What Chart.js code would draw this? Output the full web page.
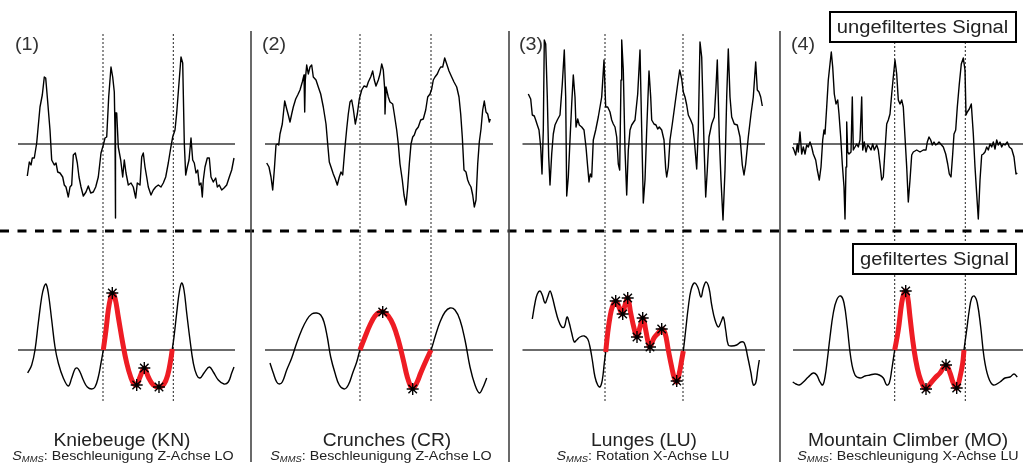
<!DOCTYPE html>
<html>
<head>
<meta charset="utf-8">
<script src="https://cdn.jsdelivr.net/npm/chart.js@4.4.1/dist/chart.umd.min.js"></script>
<style>
html,body{margin:0;padding:0;background:#fff;}
#wrap{position:relative;width:1023px;height:466px;overflow:hidden;font-family:"Liberation Sans",Arial,Helvetica,sans-serif;color:#222;background:#fff;}
.plot{position:absolute;}
.plot canvas{display:block;}
.tag{position:absolute;font-size:18px;line-height:18px;color:#333;white-space:nowrap;transform-origin:left center;transform:scaleX(1.1);}
.title{position:absolute;font-size:18px;line-height:18px;color:#222;white-space:nowrap;transform:translateX(-50%) scaleX(1.07);}
.sub{position:absolute;font-size:13px;line-height:13px;color:#222;white-space:nowrap;transform:translateX(-50%) scaleX(1.1);}
.sub i{font-style:italic;}
.sub .mms{font-size:8.5px;font-style:italic;position:relative;top:1.5px;}
.box{position:absolute;border:2px solid #000;background:#fff;box-sizing:border-box;display:flex;align-items:center;justify-content:center;font-size:18px;color:#222;white-space:nowrap;}
.box span{display:inline-block;transform:scaleX(1.12);}
svg{position:absolute;left:0;top:0;}
</style>
</head>
<body>
<div id="wrap"></div>
<script>
// ---------------- data (time in samples, amplitude in arbitrary units; 0 = baseline) ----------------
const PANEL_TAGS = ['(1)', '(2)', '(3)', '(4)'];
const TITLES = ['Kniebeuge (KN)', 'Crunches (CR)', 'Lunges (LU)', 'Mountain Climber (MO)'];
const SUBTITLES = ['Beschleunigung Z-Achse LO', 'Beschleunigung Z-Achse LO', 'Rotation X-Achse LU', 'Beschleunigung X-Achse LU'];

// (1) Kniebeuge
const KN_RAW = [[27.3,-32],[29.3,-18],[31,-21],[32.3,-14],[34.3,-14],[36.7,1],[40,37],[42.3,49],[44.3,67],[45.7,66],[47.3,47],[50,14],[51.7,-16],[54.3,-21],[56,-19],[57.7,-28],[60,-29],[62.7,-33],[64.3,-41],[66,-43],[68.3,-53],[70,-43],[71.7,-41],[73.3,-11],[75.3,-9],[77.3,-19],[79,-33],[81,-43],[83.3,-52],[86,-48],[88.3,-42],[90.7,-49],[93.3,-48],[95.7,-43],[98.3,-33],[101,-9],[103.3,-1],[105,6],[106.7,7],[108.7,47],[111,77],[112.7,67],[114.3,52],[115,14],[115.3,-74],[115.7,31],[116.7,31],[118.3,-3],[120.7,-16],[122.7,-33],[124.3,-16],[126,-29],[128.3,-41],[131,-39],[133.3,-43],[135.7,-54],[137.3,-39],[140,-41],[141.7,-13],[143.3,-9],[145,-23],[146.7,-33],[148.3,-43],[151,-51],[153.3,-46],[155.7,-43],[158.3,-41],[161,-43],[163.3,-39],[165.7,-33],[168.3,-19],[170.7,-4],[172.7,7],[175,14],[176.7,31],[179,61],[181,87],[182.7,81],[184.3,1],[185.7,-31],[187.3,-23],[189,-16],[191,6],[192.7,-16],[194.3,-19],[196,-29],[197.7,-26],[199.3,-41],[201,-39],[202.3,-53],[203.3,-36],[205,-23],[207.3,-14],[209.3,-14],[211,-33],[213.3,-38],[215.7,-34],[217.3,-43],[219.3,-41],[221.7,-46],[224,-44],[226.7,-41],[229.3,-33],[231.7,-26],[234,-14]];
const KN_FILT = [[27.7,-23],[31.7,-15],[35,0],[38.3,27],[41.7,53],[44,63],[46,66],[48.3,57],[51.7,30],[55,3],[58.3,-13],[63.3,-28],[68.3,-36],[71.7,-28],[75,-19],[77.3,-18],[80,-22],[83.3,-30],[87.3,-37],[91.7,-39],[95,-37],[98.3,-27],[101,-13],[103.3,0],[106,20],[108.3,40],[110.7,53],[112.3,57],[115,52],[118.3,33],[122.7,7],[126.7,-13],[130.7,-27],[134,-34],[136.7,-35],[140,-27],[144.3,-18],[148.3,-27],[153.3,-35],[159,-37],[164,-34],[167.7,-25],[170.7,-10],[172.3,1],[174,13],[176.7,37],[179.3,58],[181.7,67],[184,60],[186.7,37],[190,10],[193.3,-13],[196.7,-25],[200,-28],[204,-23],[209.3,-17],[213.3,-22],[218.3,-30],[224,-34],[228.3,-32],[231.7,-23],[234,-17]];
const KN_PEAKS = [[112.3,57],[136.7,-35],[144.3,-18],[159,-37]];
const KN_REPS = [103, 173.3];

// (2) Crunches
const CR_RAW = [[16.7,-19],[19,-23],[21,-33],[22.7,-46],[24.3,-26],[26,-1],[27.3,0],[28.7,-1],[30,10],[32.3,20],[34.7,43],[36.7,35],[38.3,29],[40,22],[41.7,30],[43.3,37],[45.7,45],[47.7,49],[50,54],[52.3,62],[54,69],[54.7,32],[55.3,64],[56.7,79],[58.3,70],[60,77],[61.7,79],[63.3,67],[66,64],[68.3,57],[70.7,50],[73.3,37],[76,20],[77.7,0],[79.3,-18],[81,-23],[83.3,-30],[85.3,-35],[87.3,-41],[89.3,-33],[91,-28],[92.7,-31],[95,-3],[96.7,15],[98.3,30],[100,42],[101.7,44],[103.3,35],[105.3,20],[107.3,30],[109.3,45],[111.7,54],[114,58],[116.7,57],[118.3,62],[120.7,67],[122.7,73],[124.3,64],[126,58],[128.3,64],[130,70],[131.7,80],[133.3,74],[134.7,55],[135,30],[136,57],[138.3,47],[140,42],[142.7,40],[144.3,30],[146.7,14],[148.3,0],[150,-20],[152.3,-36],[154,-51],[156,-61],[157.7,-43],[159.3,-20],[161,0],[162.7,7],[164.3,9],[166,14],[168.3,17],[170.7,24],[173.3,25],[175.7,34],[177.7,47],[180,50],[181.7,55],[183.3,64],[185,67],[187.3,70],[189,74],[190.7,77],[192.7,77],[194.7,86],[196.7,80],[199,73],[201.7,67],[204,62],[206.7,57],[209,47],[210.7,30],[212.3,7],[214,-26],[216,-28],[217.7,-36],[219.3,-40],[221,-43],[222.7,-51],[224.3,-63],[226,-56],[227.7,-20],[229.3,2],[231,15],[232.7,34],[234.3,43],[236,32],[237.7,30],[239.3,22],[240.3,25]];
const CR_FILT = [[20,-13],[23.3,-23],[26.7,-32],[29.3,-34],[32.3,-32],[36.7,-20],[41.7,-8],[46.7,7],[51.7,20],[56.7,30],[61.7,36],[66.7,37],[70.7,35],[74,28],[77.3,13],[80.7,-7],[85,-23],[89.3,-35],[94.3,-39],[98.3,-35],[102.7,-23],[106.7,-12],[110,0],[115,13],[120,25],[125,34],[130,38],[133.3,38],[138.3,34],[143.3,25],[148.3,10],[153.3,-10],[157.3,-27],[161,-37],[163.3,-38],[166.7,-33],[170.7,-23],[175,-13],[181,0],[185,13],[190,28],[195,38],[200,42],[205,40],[210,30],[215,10],[220,-17],[225,-35],[229.3,-43],[232.7,-38],[236.7,-28]];
const CR_PEAKS = [[132.7,38],[162.7,-39]];
const CR_REPS = [110, 181];

// (3) Lunges
const LU_RAW = [[23.3,50],[25.7,45],[27.3,29],[29.3,28],[30.7,24],[32.3,19],[34,14],[35.7,-3],[37,-30],[38.3,14],[39.3,104],[40.7,100],[42.3,47],[43.7,-13],[45,-41],[46.7,-10],[48.3,10],[50,19],[52.3,24],[55,29],[57.3,60],[59.3,94],[60.7,47],[61.7,-52],[63.3,-33],[65,4],[66.7,40],[68.3,69],[70,47],[71,17],[72.7,25],[74.3,19],[76.7,17],[79,14],[81,-3],[82.7,-23],[84,-38],[85.3,-30],[86.7,-33],[88.3,4],[90.7,14],[93.3,27],[96.7,47],[99,84],[100.7,37],[102.7,37],[105,32],[106.7,24],[108.3,20],[110,17],[111.7,7],[113.3,-20],[114.7,-26],[116,64],[116.7,104],[118.3,74],[120,-6],[121.7,-51],[123.3,-6],[125,14],[126.7,19],[130,24],[132.7,50],[135,94],[136.7,14],[138.3,-59],[140,-36],[141.7,14],[144,73],[145.7,47],[146.7,24],[149,20],[151,19],[152.7,15],[154.3,17],[156.7,14],[159,4],[160.7,-25],[161.7,-33],[163.3,-23],[165,4],[167.3,20],[170,40],[172.7,60],[174.7,74],[176.7,65],[178.3,52],[180,47],[181.7,39],[183.3,29],[185.7,24],[187.7,19],[189.3,4],[191.7,-25],[193.3,14],[195,102],[196.7,87],[199,0],[200.7,-53],[202.3,-26],[204,7],[206.7,20],[209.3,27],[211,57],[212.3,84],[214.3,7],[216,-36],[218,-76],[220,-26],[221.7,47],[223.3,95],[225,47],[226.7,27],[229.3,20],[232.3,19],[235,7],[237.3,-21],[239,-31],[240.7,-20],[243.3,7],[246,30],[248.3,47],[250.7,82],[252.3,54],[254,52],[255.7,47],[257.3,38]];
const LU_FILT = [[27.3,31],[30,47],[32.3,56],[35,59],[37.3,55],[40,47],[42.7,53],[45,59],[47.3,53],[50,42],[53.3,30],[56.7,23],[59.3,23],[62,33],[64,28],[66.7,17],[69.3,8],[71.7,10],[75,13],[79.3,14],[82.7,11],[85,3],[87.3,-10],[90,-27],[92.7,-35],[95,-37],[97.3,-30],[99.3,-13],[100.7,-2],[102.7,17],[105,33],[107.3,43],[110.7,49],[114,43],[117.3,36],[120,45],[122.7,52],[125.7,37],[129,22],[132,13],[135,23],[138,32],[140.7,20],[143.3,7],[145,3],[149,12],[153.3,17],[156.7,21],[160,17],[163.3,0],[166.7,-17],[169.3,-28],[171.7,-32],[174.3,-23],[176.7,-10],[178.3,-1],[180.7,20],[183.3,43],[186,60],[189.3,67],[192.7,63],[196,53],[198.3,62],[201,68],[204,62],[206.7,45],[210,30],[213.3,23],[216,28],[218.3,33],[220.7,20],[223.3,5],[226.7,4],[231.7,5],[236,8],[239.3,7],[242.7,-7],[246,-23],[248.3,-35],[250.7,-33],[252.7,-20],[254.3,-10]];
const LU_PEAKS = [[110.7,49],[117.7,36],[122.7,52],[132,13],[137.7,32],[145,3],[156.7,21],[171.7,-31]];
const LU_REPS = [100, 178];

// (4) Mountain Climber
const MO_RAW = [[22.7,-3],[24,-6],[25.7,-11],[27.3,0],[28.3,-8],[30,12],[31.7,-10],[33.3,-3],[35,-10],[36.7,-1],[38.3,-3],[40,2],[41.7,-3],[43.3,-10],[45.7,-16],[47.3,-26],[49.3,-36],[51,-23],[52.7,4],[54,14],[55,10],[56.7,37],[58.3,64],[60,80],[61.3,92],[62.7,77],[64.3,50],[66,40],[67.7,44],[69,30],[70.7,7],[72.3,-20],[74,-43],[75,-75],[76,-23],[76.7,22],[77.7,-8],[79,-10],[81,-8],[82.3,47],[83.3,-6],[85,-3],[86.7,0],[88.3,-3],[90,4],[91.7,47],[92.7,-6],[94.3,2],[96,-8],[97.7,-1],[99.3,-3],[101,-6],[102.7,0],[104.3,-6],[106.7,-1],[108.3,-6],[110,-20],[111.7,-36],[113.3,-33],[115,-6],[116.7,20],[118.3,24],[120,30],[121.7,50],[123.3,67],[125,84],[126.7,70],[128.3,44],[130,40],[131.7,44],[133.3,37],[135,7],[136.7,-23],[138.3,-58],[140,-36],[141.7,-11],[143.3,-8],[146.7,-6],[150,-8],[153.3,-6],[156,-6],[157.3,2],[159,7],[160.7,4],[162.3,-1],[164,2],[165.7,-1],[167.3,0],[169,2],[170.7,0],[173.3,-3],[175.7,-10],[177.7,-20],[179.3,-30],[181,-33],[182.7,-10],[184,10],[185.7,14],[187.3,37],[189.3,60],[191.3,80],[193.3,86],[195,74],[196,29],[197.3,32],[199.3,35],[201.3,40],[203.3,10],[205,-23],[206.7,-50],[208.3,-75],[210,-36],[211.7,-11],[213.3,-10],[215,-8],[216.7,-3],[218.3,-6],[220,0],[221.7,-3],[223.3,2],[225,-5],[226.7,4],[228.3,-1],[230,2],[231.7,-3],[233.3,0],[235,-1],[237.3,2],[239.3,-3],[241.7,-5],[244,-13],[246,-30],[247.3,-29]];
const MO_FILT = [[22.7,-32],[26,-34],[29.3,-35],[33.3,-32],[38.3,-27],[43.3,-23],[46.7,-25],[50,-32],[52.7,-35],[55,-27],[57.3,-10],[60,13],[63.3,37],[66.7,50],[70.7,54],[74,47],[77.3,23],[80.7,-7],[85,-25],[90,-28],[95,-26],[100,-25],[105,-24],[109.3,-25],[113.3,-28],[116.7,-35],[119.3,-33],[121.7,-20],[124.7,0],[128.3,20],[131.7,47],[134,57],[135.7,59],[137.7,53],[140,33],[142.7,10],[145.7,-10],[149,-25],[152.7,-35],[156,-39],[160,-34],[165,-28],[170,-23],[176,-15],[180,-23],[183.3,-33],[186.7,-38],[190,-27],[192.7,-13],[194,0],[196.7,20],[199.3,40],[201.7,52],[204.3,54],[207.3,47],[210.7,23],[214,-7],[218.3,-27],[223.3,-35],[230,-32],[235,-28],[240,-27],[244,-24],[247.3,-27]];
const MO_PEAKS = [[135.7,59],[156,-39],[176,-15],[186.7,-38]];
const MO_REPS = [124.7, 195.3];

// baseline (zero axis) extent per panel, in samples
const ZERO_SPAN = [[18,235],[15,243],[17.5,260],[23,253]];

// ---------------- layout ----------------
const PANEL_LEFT = [0, 250, 505, 770];
const PANEL_WIDTH = [250, 255, 265, 253];
const RAW_BOX = {top: 33, height: 199, min: -88, max: 111};
const FILT_BOX = {top: 232, height: 169, min: -51, max: 118};
const TITLE_CX = [122, 387, 644, 908];
const SUB_CX = [123, 381, 643, 908];
const TAG_X = [15, 262, 519, 791];

const wrap = document.getElementById('wrap');
const pts = a => a.map(([x, y]) => ({x, y}));

function makePlot(p, box, series, reps, peaks, smooth) {
  const div = document.createElement('div');
  div.className = 'plot';
  div.style.left = PANEL_LEFT[p] + 'px';
  div.style.top = box.top + 'px';
  const cv = document.createElement('canvas');
  cv.width = PANEL_WIDTH[p];
  cv.height = box.height;
  cv.style.width = PANEL_WIDTH[p] + 'px';
  cv.style.height = box.height + 'px';
  div.appendChild(cv);
  wrap.appendChild(div);

  const datasets = [];
  if (peaks) {
    datasets.push({data: pts(peaks), showLine: false, pointStyle: 'star', pointRadius: 6,
      pointHoverRadius: 6, pointBorderWidth: 1.4, pointBorderColor: '#000', pointBackgroundColor: '#000', order: 0, clip: false});
    datasets.push({data: pts(series.filter(([t]) => t >= reps[0] - 0.5 && t <= reps[1] + 0.5)),
      borderColor: '#ee1c24', borderWidth: 5, tension: 0.4, pointRadius: 0, order: 1, clip: false,
      borderCapStyle: 'butt', borderJoinStyle: 'round'});
  }
  datasets.push({data: pts(series), borderColor: '#000', borderWidth: 1.4, tension: smooth ? 0.4 : 0,
    pointRadius: 0, order: 2, borderJoinStyle: 'round'});
  datasets.push({data: [{x: ZERO_SPAN[p][0], y: 0}, {x: ZERO_SPAN[p][1], y: 0}], borderColor: '#3a3a3a',
    borderWidth: 1.4, pointRadius: 0, order: 3});
  reps.forEach(b => datasets.push({data: [{x: b, y: box.min}, {x: b, y: box.max}], borderColor: '#222',
    borderWidth: 1, borderDash: [2, 2], pointRadius: 0, order: 4, clip: false}));

  new Chart(cv, {
    type: 'line',
    data: {datasets},
    options: {
      responsive: false, animation: false, devicePixelRatio: 1,
      layout: {padding: 0, autoPadding: false},
      events: [],
      plugins: {legend: {display: false}, tooltip: {enabled: false}},
      scales: {
        x: {type: 'linear', min: 0, max: PANEL_WIDTH[p], display: false},
        y: {type: 'linear', min: box.min, max: box.max, display: false}
      }
    }
  });
}

const SETS = [
  [KN_RAW, KN_FILT, KN_PEAKS, KN_REPS],
  [CR_RAW, CR_FILT, CR_PEAKS, CR_REPS],
  [LU_RAW, LU_FILT, LU_PEAKS, LU_REPS],
  [MO_RAW, MO_FILT, MO_PEAKS, MO_REPS]
];
SETS.forEach(([raw, filt, peaks, reps], p) => {
  makePlot(p, RAW_BOX, raw, reps, null, false);
  makePlot(p, FILT_BOX, filt, reps, peaks, true);
});

// decorations: separators
const NS = 'http://www.w3.org/2000/svg';
const svg = document.createElementNS(NS, 'svg');
svg.setAttribute('width', 1023); svg.setAttribute('height', 466);
function line(x1, y1, x2, y2, attrs) {
  const l = document.createElementNS(NS, 'line');
  l.setAttribute('x1', x1); l.setAttribute('y1', y1); l.setAttribute('x2', x2); l.setAttribute('y2', y2);
  for (const k in attrs) l.setAttribute(k, attrs[k]);
  svg.appendChild(l);
}
line(0, 231, 1023, 231, {stroke: '#000', 'stroke-width': 3, 'stroke-dasharray': '9 8.5'});
[251, 509, 780].forEach(x => line(x, 31, x, 462, {stroke: '#444', 'stroke-width': 1.6}));
wrap.appendChild(svg);

// texts
function addDiv(cls, html, style) {
  const d = document.createElement('div');
  d.className = cls; d.innerHTML = html;
  Object.assign(d.style, style);
  wrap.appendChild(d);
  return d;
}
PANEL_TAGS.forEach((t, i) => addDiv('tag', t, {left: TAG_X[i] + 'px', top: '35px'}));
TITLES.forEach((t, i) => addDiv('title', t, {left: TITLE_CX[i] + 'px', top: '431px'}));
SUBTITLES.forEach((t, i) => addDiv('sub', '<i>S</i><span class="mms">MMS</span>: ' + t, {left: SUB_CX[i] + 'px', top: '449px'}));
addDiv('box', '<span>ungefiltertes Signal</span>', {left: '829px', top: '11px', width: '188px', height: '32px'});
addDiv('box', '<span>gefiltertes Signal</span>', {left: '852px', top: '243px', width: '165px', height: '32px'});
</script>
</body>
</html>
